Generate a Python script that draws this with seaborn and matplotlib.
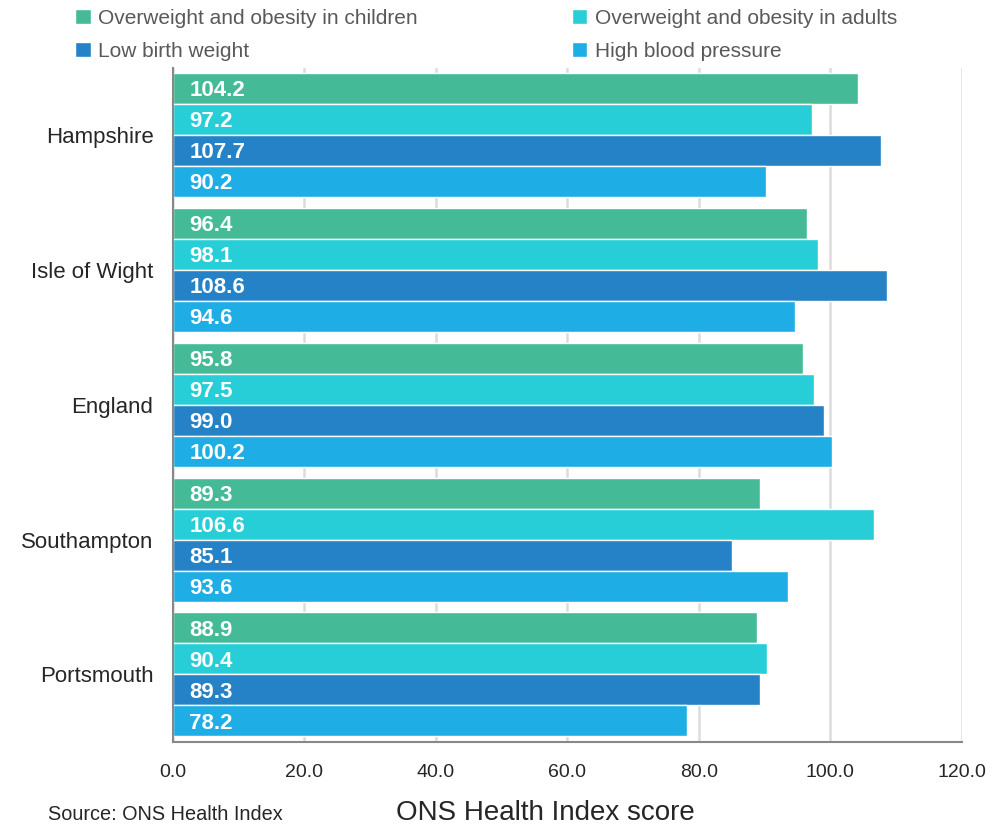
import matplotlib
matplotlib.use('Agg')
import matplotlib.pyplot as plt
import seaborn as sns
import pandas as pd
from matplotlib.ticker import FixedLocator

areas = ['Hampshire', 'Isle of Wight', 'England', 'Southampton', 'Portsmouth']
measures = ['Overweight and obesity in children', 'Overweight and obesity in adults',
            'Low birth weight', 'High blood pressure']
children = [104.2, 96.4, 95.8, 89.3, 88.9]
adults = [97.2, 98.1, 97.5, 106.6, 90.4]
low_birth = [107.7, 108.6, 99.0, 85.1, 89.3]
blood_pressure = [90.2, 94.6, 100.2, 93.6, 78.2]
colors = ['#44BB96', '#27CED7', '#2582C6', '#1EADE4']

rows = []
for m, vals in zip(measures, [children, adults, low_birth, blood_pressure]):
    for a, v in zip(areas, vals):
        rows.append({'area': a, 'measure': m, 'score': v})
df = pd.DataFrame(rows)

sns.set_style('white')
plt.rcParams['font.family'] = ['Liberation Sans', 'DejaVu Sans']

fig = plt.figure(figsize=(10.05, 8.27), dpi=100)
ax = fig.add_axes([0.172, 0.103, 0.785, 0.815])

sns.barplot(data=df, y='area', x='score', hue='measure', order=areas,
            hue_order=measures, palette=colors, saturation=1, orient='h',
            width=0.92, edgecolor='white', linewidth=1, ax=ax, legend=True)

# value labels inside bars, left aligned (small nudge down so digits look centred)
for cont in ax.containers:
    for bar in cont:
        ax.text(2.5, bar.get_y() + bar.get_height() / 2 + 0.016, f'{bar.get_width():.1f}',
                color='white', fontsize=16, fontweight='bold', va='center', ha='left')

ax.set_xlim(0, 120)
ax.set_ylim(len(areas) - 0.5, -0.5)
ax.set_xticks(range(0, 121, 20))
ax.set_xticklabels([f'{v:.1f}' for v in range(0, 121, 20)], fontsize=14)
ax.tick_params(axis='x', length=6, width=1.2, color='#888888', direction='inout', pad=13)
ax.tick_params(axis='y', which='major', length=0, labelsize=16, pad=14)
ax.yaxis.set_minor_locator(FixedLocator([i - 0.5 for i in range(len(areas) + 1)]))
ax.tick_params(axis='y', which='minor', length=6, width=1.2, color='#888888', direction='out')
ax.grid(axis='x', color='#dcdcdc', linewidth=1.8)
ax.set_axisbelow(True)
for s in ['top', 'right']:
    ax.spines[s].set_visible(False)
for s in ['left', 'bottom']:
    ax.spines[s].set_color('#888888')
    ax.spines[s].set_linewidth(1.5)
ax.set_xlabel('')
ax.set_ylabel('')

handles, labels = ax.get_legend_handles_labels()
ax.legend_.remove()
order = [0, 2, 1, 3]
fig.legend([handles[i] for i in order], [labels[i] for i in order], ncol=2,
           loc='upper left', bbox_to_anchor=(0.056, 1.012), frameon=False,
           fontsize=15, labelcolor='#595959', handlelength=0.75, handleheight=0.75,
           handletextpad=0.35, columnspacing=7.4, labelspacing=0.66)

fig.text(0.543, 0.008, 'ONS Health Index score', fontsize=20, ha='center')
fig.text(0.048, 0.008, 'Source: ONS Health Index', fontsize=14.3)

fig.savefig('out.png', dpi=100)
